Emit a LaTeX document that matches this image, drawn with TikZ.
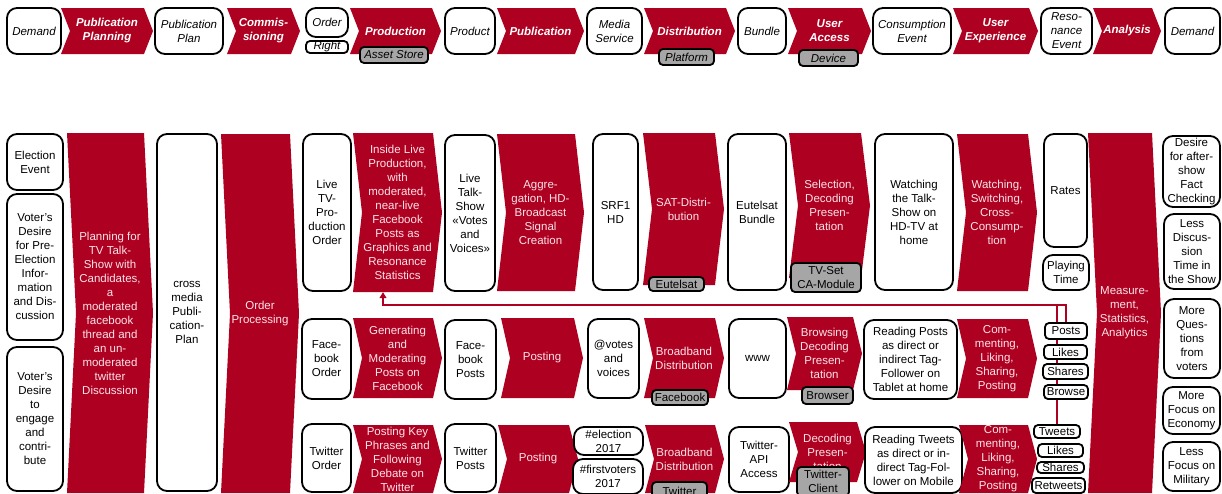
\documentclass[tikz,border=0pt]{standalone}
\usepackage{fontspec}
\setmainfont{Liberation Sans}
\usetikzlibrary{calc}
\usetikzlibrary{backgrounds}
\usetikzlibrary{arrows.meta}

\definecolor{srfred}{RGB}{174,0,32}
\definecolor{tagfill}{RGB}{166,166,166}
\definecolor{stagetxt}{RGB}{252,228,233}

\tikzset{
 statebox/.style={draw=black, line width=1.8pt, fill=white, rounded corners=10pt, inner sep=0pt, align=center, font=\fontsize{11.5}{14}\selectfont},
 headbox/.style={statebox, font=\fontsize{11.5}{14}\selectfont\itshape},
 tagbox/.style={statebox, rounded corners=4pt},
 graybox/.style={statebox, fill=tagfill, rounded corners=4pt},
 headtag/.style={graybox, font=\fontsize{11.5}{14}\selectfont\itshape},
 stagetext/.style={inner sep=0pt, align=center, text=stagetxt, font=\fontsize{11.5}{14}\selectfont},
 headtext/.style={stagetext, text=white, font=\fontsize{11.5}{14}\selectfont\bfseries\itshape},
 feedback/.style={draw=srfred, line width=1.2pt},
}

% red process step: name, left, top, tip, bottom, text
\newcommand{\chev}[7][stagetext]{%
 \pgfmathsetmacro\cym{(#4+#6)/2}%
 \pgfmathsetmacro\cxm{(#3+#5)/2}%
 \pgfmathsetmacro\cxa{#5-9}%
 \pgfmathsetmacro\cxn{#3+9}%
 \pgfmathsetmacro\cw{#5-#3}%
 \pgfmathsetmacro\ch{#6-#4}%
 \fill[srfred] (#3,#4) -- (\cxa,#4) -- (#5,\cym) -- (\cxa,#6) -- (#3,#6) -- (\cxn,\cym) -- cycle;
 \node[#1, minimum width=\cw pt, minimum height=\ch pt] (#2) at (\cxm,\cym) {#7};
}
% rounded state box: name, left, top, right, bottom, text
\newcommand{\statenode}[7][statebox]{%
 \pgfmathsetmacro\bxm{(#3+#5)/2}%
 \pgfmathsetmacro\bym{(#4+#6)/2}%
 \pgfmathsetmacro\bw{#5-#3}%
 \pgfmathsetmacro\bh{#6-#4}%
 \node[#1, minimum width=\bw pt, minimum height=\bh pt] (#2) at (\bxm,\bym) {#7};
}

\begin{document}
\begin{tikzpicture}[x=1pt, y=-1pt]
\useasboundingbox (0,0) rectangle (1222,493);

% generic value chain
\foreach \n/\xa/\xb/\t in {ppl/61/153/{Publication\\Planning}, comm/227/300/{Commis-\\sioning}, prod/350/441/Production, publ/497/584/Publication, dist/644/735/Distribution, uacc/788/871/{User\\Access}, uexp/953/1038/{User\\Experience}, anal/1093/1161/Analysis}
 \chev[headtext]{\n}{\xa}{8}{\xb}{54}{\t};
\foreach \n/\xa/\xb/\t in {dem1/7/61/Demand, pplan/155/223/{Publication\\Plan}, product/445/495/Product, mserv/587/642/{Media\\Service}, bundle/738/786/Bundle, cevent/873/951/{Consumption\\Event}, revent/1041/1092/{Reso-\\nance\\Event}, dem2/1165/1220/Demand}
 \statenode[headbox]{\n}{\xa}{8}{\xb}{54}{\t};
\statenode[headbox]{order}{306}{8}{348}{37}{Order};
\statenode[headbox, rounded corners=4pt]{right}{306}{41}{348}{53}{Right};
\statenode[headtag]{asset}{360}{47}{428}{63}{Asset Store};
\statenode[headtag]{platf}{659}{49}{714}{65}{Platform};
\statenode[headtag]{device}{799}{50}{858}{66}{Device};

% planning
\statenode{elect}{7}{134}{63}{190}{Election\\Event};
\statenode{vdes1}{7}{194}{63}{340}{Voter's\\Desire\\for Pre-\\Election\\Infor-\\mation\\and Dis-\\cussion};
\statenode{vdes2}{7}{347}{63}{491}{Voter's\\Desire\\to\\engage\\and\\contri-\\bute};
\chev{plan}{67}{133}{153}{493}{Planning for\\TV Talk-\\Show with\\Candidates,\\a\\moderated\\facebook\\thread and\\an un-\\moderated\\twitter\\Discussion};
\statenode{xplan}{157}{134}{217}{491}{cross\\media\\Publi-\\cation-\\Plan};
\chev{oproc}{221}{134}{299}{493}{Order\\Processing};

% TV row
\statenode{ltvo}{303}{134}{351}{291}{Live\\TV-\\Pro-\\duction\\Order};
\chev{inlive}{353}{133}{442}{292}{Inside Live\\Production,\\with\\moderated,\\near-live\\Facebook\\Posts as\\Graphics and\\Resonance\\Statistics};
\statenode{lts}{445}{135}{495}{291}{Live\\Talk-\\Show\\«Votes\\and\\Voices»};
\chev{aggr}{497}{134}{584}{291}{Aggre-\\gation, HD-\\Broadcast\\Signal\\Creation};
\statenode{srf}{593}{134}{638}{290}{SRF1\\HD};
\chev{sat}{643}{133}{724}{285}{SAT-Distri-\\bution};
\statenode[graybox]{eutel}{649}{277}{704}{291}{Eutelsat};
\statenode{eub}{728}{134}{786}{290}{Eutelsat\\Bundle};
\chev{sel}{789}{133}{870}{278}{Selection,\\Decoding\\Presen-\\tation};
\statenode[graybox]{tvset}{791}{263}{861}{292}{TV-Set\\CA-Module};
\statenode{watch}{875}{134}{953}{290}{Watching\\the Talk-\\Show on\\HD-TV at\\home};
\chev{wsc}{957}{134}{1037}{291}{Watching,\\Switching,\\Cross-\\Consump-\\tion};
\statenode{rates}{1044}{134}{1087}{247}{Rates};
\statenode{ptime}{1043}{255}{1089}{290}{Playing\\Time};

% facebook row
\statenode{fbo}{302}{319}{351}{399}{Face-\\book\\Order};
\chev{gen}{353}{318}{442}{398}{Generating\\and\\Moderating\\Posts on\\Facebook};
\statenode{fbp}{445}{320}{496}{399}{Face-\\book\\Posts};
\chev{post1}{501}{318}{583}{398}{Posting};
\statenode{vav}{588}{319}{639}{398}{@votes\\and\\voices};
\chev{bbd1}{644}{318}{724}{398}{Broadband\\Distribution};
\statenode[graybox]{fbtag}{652}{390}{708}{405}{Facebook};
\statenode{www}{729}{319}{786}{398}{www};
\chev{brw}{787}{317}{862}{390}{Browsing\\Decoding\\Presen-\\tation};
\statenode[graybox]{brtag}{802}{387}{853}{404}{Browser};
\statenode{rp}{864}{320}{957}{399}{Reading Posts\\as direct or\\indirect Tag-\\Follower on\\Tablet at home};
\chev{clsp1}{957}{319}{1037}{398}{Com-\\menting,\\Liking,\\Sharing,\\Posting};
\foreach \n/\xa/\ya/\xb/\yb/\t in {posts/1045/323/1087/339/Posts, likes1/1044/345/1087/359/Likes, shares1/1043/364/1088/379/Shares, browse/1044/385/1088/399/Browse}
 \statenode[tagbox]{\n}{\xa}{\ya}{\xb}{\yb}{\t};

% twitter row
\statenode{two}{302}{424}{351}{492}{Twitter\\Order};
\chev{pkp}{353}{425}{442}{493}{Posting Key\\Phrases and\\Following\\Debate on\\Twitter};
\statenode{twp}{445}{424}{496}{492}{Twitter\\Posts};
\chev{post2}{498}{425}{578}{493}{Posting};
\statenode{hash1}{574}{427}{643}{455}{\#election\\2017};
\statenode{hash2}{573}{459}{643}{494}{\#firstvoters\\2017};
\chev{bbd2}{645}{425}{724}{493}{Broadband\\Distribution};
\statenode[graybox]{twtag}{652}{482}{707}{500}{Twitter};
\statenode{twapi}{729}{427}{789}{492}{Twitter-\\API\\Access};
\chev{dec}{789}{422}{866}{482}{Decoding\\Presen-\\tation};
\statenode[graybox]{twcl}{797}{467}{849}{496}{Twitter-\\Client};
\statenode{rt}{865}{427}{962}{493}{Reading Tweets\\as direct or in-\\direct Tag-Fol-\\lower on Mobile};
\chev{clsp2}{959}{425}{1037}{493}{Com-\\menting,\\Liking,\\Sharing,\\Posting};
\foreach \n/\xa/\ya/\xb/\yb/\t in {tweets/1034/425/1080/438/Tweets, likes2/1038/444/1083/457/Likes, shares2/1037/462/1084/473/Shares, retw/1032/478/1085/493/Retweets}
 \statenode[tagbox]{\n}{\xa}{\ya}{\xb}{\yb}{\t};

% analysis
\chev{meas}{1088}{133}{1161}{493}{Measure-\\ment,\\Statistics,\\Analytics};
\statenode{dfc}{1163}{136}{1220}{207}{Desire\\for after-\\show\\Fact\\Checking};
\statenode{ldt}{1164}{214}{1220}{289}{Less\\Discus-\\sion\\Time in\\the Show};
\statenode{mqv}{1164}{299}{1220}{378}{More\\Ques-\\tions\\from\\voters};
\statenode{mfe}{1163}{387}{1220}{434}{More\\Focus on\\Economy};
\statenode{lfm}{1163}{442}{1220}{491}{Less\\Focus on\\Military};

% resonance back into the live production
\coordinate (fbk) at (1066,305);
\begin{scope}[on background layer]
\draw[feedback, -{Triangle[width=7pt,length=6pt]}] (posts.north) -- (posts.north |- fbk) -| ([xshift=-14.5pt]inlive.south);
\draw[feedback] (tweets.north) -- (tweets.north |- fbk);
\end{scope}
\end{tikzpicture}
\end{document}
